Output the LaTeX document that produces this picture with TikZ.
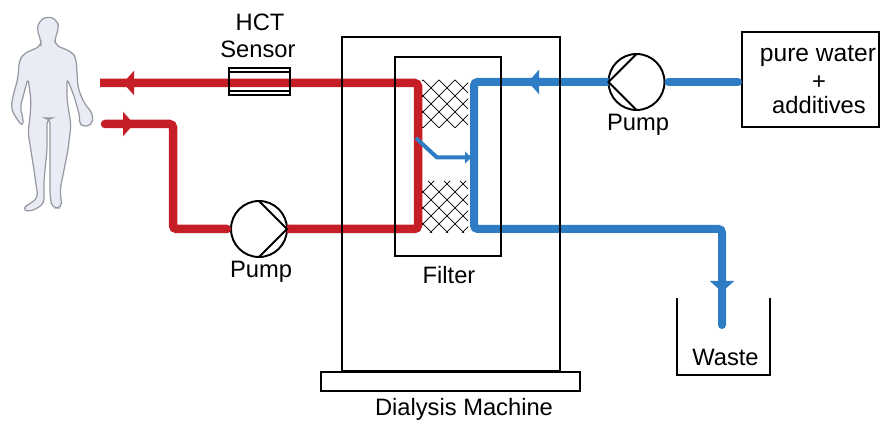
\documentclass[tikz,border=0pt]{standalone}
\usepackage{fontspec}
\setmainfont{Liberation Sans}
\usetikzlibrary{arrows.meta}
\definecolor{pipered}{RGB}{198,30,38}
\definecolor{pipeblue}{RGB}{46,125,196}
\definecolor{bodyfill}{RGB}{233,235,245}
\definecolor{bodyline}{RGB}{150,153,162}
\tikzset{
  redpipe/.style={draw=pipered, line width=8.5*0.02cm, rounded corners=2pt, line cap=round},
  bluepipe/.style={draw=pipeblue, line width=8*0.02cm, rounded corners=2pt, line cap=round},
  box/.style={draw=black, line width=1.1pt},
  label/.style={font=\fontsize{13.5}{15}\selectfont, inner sep=0pt},
  bigger/.style={font=\fontsize{14}{15}\selectfont, inner sep=0pt},
  pump/.style={circle, draw=black, line width=1.1pt, minimum size=1.12cm, inner sep=0pt, outer sep=0pt},
  flowtip/.style={line width=0.1pt, -{Triangle[width=24*0.02cm, length=11*0.02cm]}},
}
\begin{document}
\begin{tikzpicture}[x=0.02cm, y=-0.02cm]
  \useasboundingbox (0,0) rectangle (880,421);
  % patient
  \draw[fill=bodyfill, draw=bodyline, line width=0.7pt, rounded corners=3pt]
    (48,16) -- (39,21) -- (37,30) -- (41,41) -- (41,46) -- (23,54) -- (19,62) -- (18,78) -- (13,96) -- (11,108)
    -- (16,118) -- (23,127) -- (23,117) -- (20,108) -- (28,78) -- (31,100) -- (30,118) -- (28,132) -- (34,170)
    -- (38,198) -- (22,209) -- (30,212) -- (44,204) -- (44,180) -- (47,150) -- (47,118) -- (50,118) -- (50,160)
    -- (50,195) -- (52,208) -- (62,208) -- (60,190) -- (68,150) -- (71,125) -- (67,100) -- (67,78) -- (74,96)
    -- (80,117) -- (79,126) -- (92,126) -- (93,114) -- (84,103) -- (78,88) -- (76,58) -- (72,52) -- (55,45)
    -- (55,38) -- (59,28) -- (57,20) -- cycle;
  % named points of the lines
  \coordinate (retStart) at (100,83);
  \coordinate (retCorner) at (418,83);
  \coordinate (retBottom) at (418,229);
  \coordinate (artStart) at (105,124);
  \coordinate (artCorner) at (173,124);
  \coordinate (artBottom) at (173,229);
  \coordinate (diaTop) at (474,82);
  \coordinate (diaBottom) at (474,229);
  \coordinate (wasteCorner) at (722,229);
  \coordinate (wasteEnd) at (722,325);
  \coordinate (leakStart) at (417,139);
  \coordinate (leakBend) at (437,157.5);
  \coordinate (leakEnd) at (471,157.5);
  \coordinate (tipA) at (134,83);
  \coordinate (tipAend) at (123,83);
  \coordinate (tipB) at (123,124);
  \coordinate (tipBend) at (134,124);
  \coordinate (tipC) at (540,82);
  \coordinate (tipCend) at (528,82);
  \coordinate (tipD) at (722,281);
  \coordinate (tipDend) at (722,292);
  % pumps and boxes
  \node[pump] (pumpBlood) at (259,229) {};
  \node[pump] (pumpWater) at (636.5,82) {};
  \node[box, minimum width=2.74cm, minimum height=1.9cm, inner sep=0pt, outer sep=0pt, anchor=north west] (supply) at (742,32) {};
  % lines
  \draw[redpipe, line cap=butt] (retStart) -- (retCorner) -- (retBottom) -- (pumpBlood.east);
  \draw[redpipe, shorten >=4*0.02cm] (artStart) -- (artCorner) -- (artBottom) -- (pumpBlood.west);
  \draw[bluepipe, shorten >=4*0.02cm, shorten <=4*0.02cm] (supply.west |- pumpWater) -- (pumpWater.east);
  \draw[bluepipe, line cap=butt] (pumpWater.west) -- (diaTop) -- (diaBottom) -- (wasteCorner) -- (wasteEnd);
  \draw[draw=pipeblue, line width=4*0.02cm, line cap=round] (leakStart) -- (leakBend) -- (leakEnd);
  \fill[pipeblue] (wasteEnd) circle[radius=4];
  \draw[flowtip, pipered] (tipA) -- (tipAend);
  \draw[flowtip, pipered] (tipB) -- (tipBend);
  \draw[flowtip, pipeblue] (tipC) -- (tipCend);
  \draw[flowtip, pipeblue] (tipD) -- (tipDend);
  \draw[line width=0.1pt, pipeblue, -{Triangle[width=12*0.02cm, length=6*0.02cm]}] (463,157.5) -- (471,157.5);
  % membrane
  \begin{scope}
    \clip (422,80) rectangle (468,128);
    \foreach \s in {375,391,...,519} {
      \draw[line width=0.4pt] (\s,80) -- (\s+48,128);
      \draw[line width=0.4pt] (\s,80) -- (\s-48,128);
    }
  \end{scope}
  \begin{scope}
    \clip (422,181) rectangle (468,233);
    \foreach \s in {364,380,...,524} {
      \draw[line width=0.4pt] (\s,181) -- (\s+52,233);
      \draw[line width=0.4pt] (\s+6,181) -- (\s-46,233);
    }
  \end{scope}
  % machine
  \draw[box] (342,37) rectangle (560,371);
  \draw[box] (395,57) rectangle (501,256);
  \draw[box] (321,372) rectangle (580,391);
  % sensor
  \draw[line width=0.8pt] (229,68) rectangle (290,95);
  \draw[line width=0.8pt] (229,72) -- (290,72) (229,91) -- (290,91);
  % pump faces
  \draw[line width=1.1pt] (pumpBlood.north) -- (pumpBlood.east) -- (pumpBlood.south);
  \draw[line width=1.1pt] (pumpWater.north) -- (pumpWater.west) -- (pumpWater.south);
  % waste
  \draw[box] (677,298) -- (677,375) -- (770,375) -- (770,298);
  % labels
  \node[label] (hct) at (260,22) {HCT};
  \node[label] (sensor) at (258,49) {Sensor};
  \node[label] (bloodLabel) at (261,272) {Pump};
  \node[label] (waterLabel) at (638,125) {Pump};
  \node[label] (filterLabel) at (449,275) {Filter};
  \node[label] (wasteLabel) at (725.5,357) {Waste};
  \node[label] (machineLabel) at (464,409) {Dialysis Machine};
  \node[bigger] (pure) at (818,56) {pure water};
  \node[label] (plus) at (819,83) {+};
  \node[label] (additives) at (819,105) {additives};
\end{tikzpicture}
\end{document}
